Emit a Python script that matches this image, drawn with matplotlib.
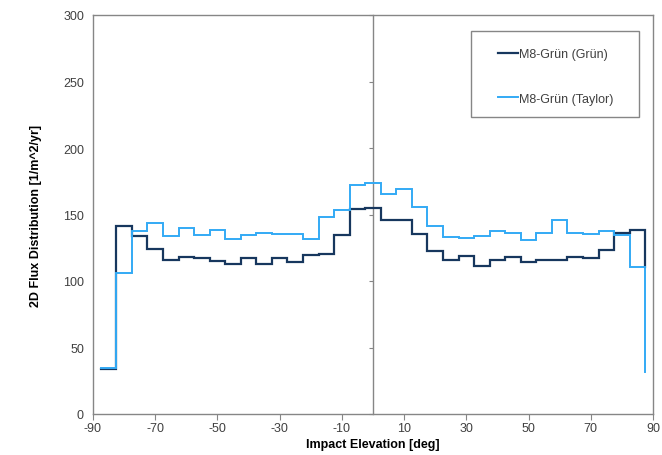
import numpy as np
import matplotlib
matplotlib.use("Agg")
import matplotlib.pyplot as plt
from matplotlib.patches import Rectangle

plt.rcParams['font.family'] = ['Liberation Sans', 'DejaVu Sans']
plt.rcParams['axes.unicode_minus'] = False

# bin centres (deg) and values
centers = [-85, -80, -75, -70, -65, -60, -55, -50, -45, -40, -35, -30, -25, -20, -15,
           -10, -5, 0, 5, 10, 15, 20, 25, 30, 35, 40, 45, 50, 55, 60, 65, 70, 75, 80, 85]
grun = [33.5, 141.4, 133.6, 123.8, 115.6, 117.8, 117.3, 115.2, 112.5, 117.2, 113.1, 117.2,
        114.4, 119.6, 120.5, 134.9, 154.2, 155.1, 145.6, 146.1, 135.6, 122.3, 115.6, 119.1,
        111.6, 115.6, 118.1, 114.6, 116.1, 115.6, 117.8, 117.3, 123.4, 136.1, 138.6]
taylor = [34.3, 106.3, 137.3, 143.9, 133.9, 139.6, 134.3, 138.7, 131.9, 134.3, 135.8, 135.1,
          135.1, 131.3, 148.0, 153.1, 171.9, 173.7, 165.1, 169.2, 155.9, 141.2, 133.4, 132.6,
          133.6, 137.6, 136.1, 130.6, 136.1, 145.9, 136.1, 135.1, 137.4, 134.6, 110.8]
grun_end = 110.8
taylor_end = 31.5
bin_width = 5
labels = ["M8-Grün (Grün)", "M8-Grün (Taylor)"]
xticks = [-90, -70, -50, -30, -10, 10, 30, 50, 70, 90]
yticks = [0, 50, 100, 150, 200, 250, 300]

GRID = '#868686'


def step_xy(c, v, end):
    c = np.asarray(c, float)
    v = np.asarray(v, float)
    edges = np.concatenate([c - bin_width / 2, [c[-1] + bin_width / 2]])
    xs = np.repeat(edges, 2)[1:-1]
    ys = np.repeat(v, 2)
    xs = np.append(xs, edges[-1])
    ys = np.append(ys, end)
    return xs, ys


fig = plt.figure(figsize=(6.62, 4.56), dpi=100)
ax = fig.add_axes([93 / 662, 1 - 415 / 456, 560 / 662, 399 / 456])

x1, y1 = step_xy(centers, grun, grun_end)
x2, y2 = step_xy(centers, taylor, taylor_end)
ax.plot(x1, y1, color='#17375E', lw=1.6, label=labels[0], solid_joinstyle='miter')
ax.plot(x2, y2, color='#33AAF5', lw=1.4, label=labels[1], solid_joinstyle='miter')

ax.set_xlim(-90, 90)
ax.set_ylim(0, 300)
ax.set_xticks(xticks)
ax.set_yticks(yticks)
ax.tick_params(axis='x', direction='out', length=4, color=GRID, labelsize=9,
               labelcolor='#404040', pad=1.5)
ax.tick_params(axis='y', length=0, labelsize=9, labelcolor='#404040', pad=6.5)
for s in ax.spines.values():
    s.set_color(GRID)
    s.set_linewidth(1.0)

# vertical axis line crossing at x=0
sec = ax.secondary_yaxis(0.5)
sec.set_yticks(yticks)
sec.set_yticklabels([])
sec.yaxis.set_ticks_position('left')
sec.tick_params(axis='y', direction='out', length=3, color=GRID, left=True, right=False)
for s in sec.spines.values():
    s.set_color(GRID)
    s.set_linewidth(1.0)

ax.set_xlabel('Impact Elevation [deg]', fontsize=9, fontweight='bold', labelpad=3.5)
ax.set_ylabel('2D Flux Distribution [1/m^2/yr]', fontsize=9, fontweight='bold', labelpad=15)

# legend box
box = Rectangle((0.675, 0.744), 0.30, 0.216, transform=ax.transAxes, facecolor='white',
                edgecolor=GRID, lw=1.0, zorder=4)
ax.add_patch(box)
leg = ax.legend(loc='upper left', bbox_to_anchor=(0.723, 0.917), fontsize=9,
                frameon=False, handlelength=1.6, handletextpad=0.08,
                labelspacing=2.6, borderpad=0, borderaxespad=0)
leg.set_zorder(5)
for t in leg.get_texts():
    t.set_color('#404040')

fig.savefig('out.png', dpi=100)
